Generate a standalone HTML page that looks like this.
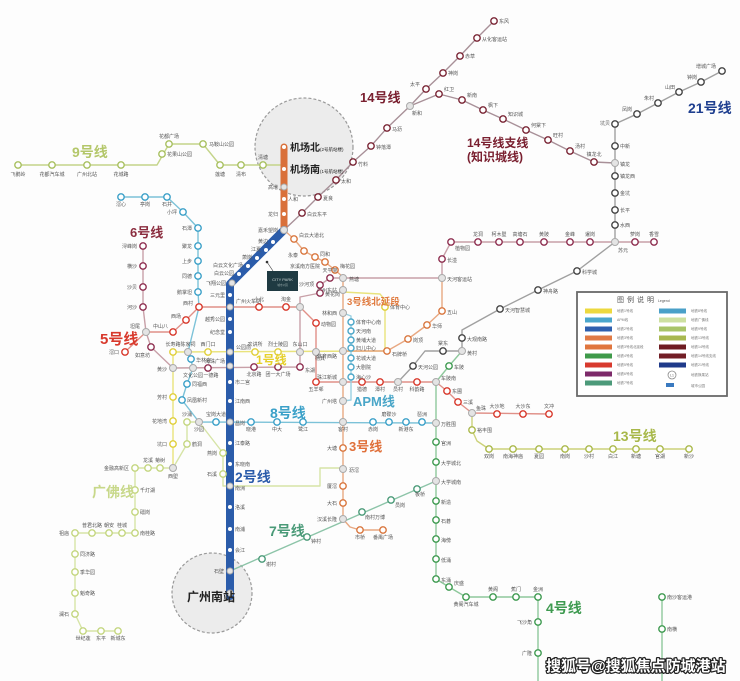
<!DOCTYPE html>
<html><head><meta charset="utf-8"><style>
html,body{margin:0;padding:0;background:#fdfdfd;}
svg{display:block;}
</style></head><body>
<svg width="740" height="681" viewBox="0 0 740 681" xmlns="http://www.w3.org/2000/svg" font-family="'Liberation Sans','Noto Sans CJK SC',sans-serif">
<rect width="740" height="681" fill="#fdfdfd"/>
<!-- big circles -->
<circle cx="304" cy="147" r="49" fill="#ececec" stroke="#9a9a9a" stroke-width="1.2" stroke-dasharray="3,2"/>
<circle cx="212" cy="593" r="40" fill="#ececec" stroke="#9a9a9a" stroke-width="1.2" stroke-dasharray="3,2"/>

<!-- thin lines -->
<g fill="none" stroke-width="1.4" stroke-linejoin="round">
<polyline stroke="#c4d48a" points="18,165 157,165 169,144 203,144 220,165 284,165"/>
<polyline stroke="#a89098" points="284,230 302,213 318,197 336,180 353,162 371,146 387,128 410,106 426,89 443,73 460,56 477,38 494,21"/>
<polyline stroke="#a89098" points="410,106 439,94 462,100 483,110 503,119 526,130 548,140 570,151 594,162 615,163"/>
<polyline stroke="#a0a0a0" points="722,71 701,82 679,92 658,103 637,114 615,124 615,242 577,271 538,290 500,309 462,330 462,351 443,351 425,351 413,366 398,382"/>
<polyline stroke="#c8a0a8" points="343,278 442,278 442,259 451,242 654,242"/>
<polyline stroke="#c8a0a8" points="143,246 143,307 146,332 151,347 173,368 300,367 300,297 320,293 320,285 330,278 343,278"/>
<polyline stroke="#e09088" points="125,352 146,332 173,332 186,320 199,307 300,307 316,323 316,382 436,382 447,391 458,402 472,413 549,414"/>
<polyline stroke="#7cc2d8" points="121,197 167,197 183,212 198,228 198,292 199,307 188,352 191,360 193,368 187,384 182,400 199,422 436,423"/>
<polyline stroke="#e9e37c" points="173,468 173,352 383,351 385,349 385,300 380,294 343,292"/>
<polyline stroke="#e8a882" points="284,230 294,239 304,251 315,257 325,262 335,270 343,277 343,351"/>
<polyline stroke="#e8a882" points="442,278 442,311 427,325 408,339 387,351 343,351 343,519 350,527 360,530 383,530"/>
<polyline stroke="#9ad0e2" points="343,313 351,316 351,400 343,401"/>
<polyline stroke="#8ec89c" points="462,351 449,366 436,382 436,579 449,587 466,597 538,597 538,681"/>
<polyline stroke="#8ec89c" points="662,597 662,681"/>
<polyline stroke="#ccd27a" points="472,413 472,430 477,441 489,449 689,449"/>
<polyline stroke="#8cc4a8" points="230,571 436,481"/>
<polyline stroke="#d6e4a6" points="173,468 135,468 135,533 75,533 75,614 83,631 118,631"/>
<polyline stroke="#d6e4a6" points="173,468 187,444 187,422 199,422 223,453 223,486 320,486 320,468 343,468"/>
</g>

<!-- thick lines -->
<line x1="284" y1="147" x2="284" y2="230" stroke="#d9703a" stroke-width="7" stroke-linecap="round"/>
<polyline points="284,230 230,284 230,596" fill="none" stroke="#2b5caa" stroke-width="8" stroke-linejoin="round" stroke-linecap="round"/>

<!-- white dots on thick lines -->
<g fill="#fff">
<circle cx="284" cy="147" r="2"/><circle cx="284" cy="169" r="2"/><circle cx="284" cy="199" r="2"/><circle cx="284" cy="214" r="2"/>
<circle cx="273" cy="242" r="2"/><circle cx="266" cy="250" r="2"/><circle cx="257" cy="258" r="2"/><circle cx="248" cy="266" r="2"/><circle cx="239" cy="274" r="2"/>
<circle cx="230" cy="295" r="2"/><circle cx="230" cy="319" r="2"/><circle cx="230" cy="332" r="2"/><circle cx="230" cy="382" r="2"/><circle cx="230" cy="401" r="2"/><circle cx="230" cy="443" r="2"/><circle cx="230" cy="464" r="2"/><circle cx="230" cy="507" r="2"/><circle cx="230" cy="529" r="2"/><circle cx="230" cy="550" r="2"/>
</g>

<!-- interchange stations -->
<g fill="#e4e4e4" stroke="#aaa" stroke-width="1">
<circle cx="284" cy="187" r="3"/><circle cx="284" cy="230" r="3.5"/><circle cx="410" cy="106" r="3.5"/><circle cx="615" cy="163" r="3.5"/><circle cx="615" cy="242" r="3.5"/>
<circle cx="462" cy="351" r="3.5"/><circle cx="146" cy="332" r="3.5"/><circle cx="173" cy="368" r="3.5"/><circle cx="193" cy="368" r="3.5"/><circle cx="300" cy="352" r="3.5"/><circle cx="300" cy="307" r="3.5"/><circle cx="343" cy="278" r="3.5"/><circle cx="442" cy="278" r="3.5"/>
<circle cx="230" cy="307" r="3"/><circle cx="316" cy="352" r="3.5"/><circle cx="343" cy="382" r="3.5"/><circle cx="398" cy="382" r="3.5"/><circle cx="436" cy="382" r="3.5"/><circle cx="472" cy="413" r="3.5"/>
<circle cx="199" cy="422" r="3.5"/><circle cx="230" cy="422" r="3"/><circle cx="343" cy="422" r="3.5"/><circle cx="436" cy="423" r="3.5"/><circle cx="173" cy="468" r="3.5"/><circle cx="188" cy="352" r="3.5"/><circle cx="230" cy="352" r="3"/><circle cx="230" cy="366" r="3"/>
<circle cx="343" cy="290" r="3.5"/><circle cx="343" cy="313" r="3.5"/><circle cx="343" cy="351" r="3.5"/><circle cx="343" cy="401" r="3.5"/><circle cx="343" cy="469" r="3.5"/><circle cx="343" cy="519" r="3.5"/><circle cx="436" cy="481" r="3.5"/>
<circle cx="232" cy="283" r="3"/><circle cx="230" cy="486" r="3"/><circle cx="230" cy="571" r="3"/><circle cx="230" cy="593" r="3"/>
</g>

<!-- line stations -->
<g fill="#fff" stroke-width="1.4">
<g stroke="#a8c060"><circle cx="18" cy="165" r="3.2"/><circle cx="52" cy="165" r="3.2"/><circle cx="87" cy="165" r="3.2"/><circle cx="121" cy="165" r="3.2"/><circle cx="162" cy="154" r="3.2"/><circle cx="169" cy="144" r="3.2"/><circle cx="203" cy="144" r="3.2"/><circle cx="220" cy="165" r="3.2"/><circle cx="241" cy="165" r="3.2"/><circle cx="263" cy="165" r="3.2"/></g>
<g stroke="#7a2535"><circle cx="302" cy="213" r="3.2"/><circle cx="318" cy="197" r="3.2"/><circle cx="336" cy="180" r="3.2"/><circle cx="353" cy="162" r="3.2"/><circle cx="371" cy="146" r="3.2"/><circle cx="387" cy="128" r="3.2"/><circle cx="426" cy="89" r="3.2"/><circle cx="443" cy="73" r="3.2"/><circle cx="460" cy="56" r="3.2"/><circle cx="477" cy="38" r="3.2"/><circle cx="494" cy="21" r="3.2"/>
<circle cx="439" cy="94" r="3.2"/><circle cx="462" cy="100" r="3.2"/><circle cx="483" cy="110" r="3.2"/><circle cx="503" cy="119" r="3.2"/><circle cx="526" cy="130" r="3.2"/><circle cx="548" cy="140" r="3.2"/><circle cx="570" cy="151" r="3.2"/><circle cx="594" cy="162" r="3.2"/></g>
<g stroke="#444"><circle cx="722" cy="71" r="3.2"/><circle cx="701" cy="82" r="3.2"/><circle cx="679" cy="92" r="3.2"/><circle cx="658" cy="103" r="3.2"/><circle cx="637" cy="114" r="3.2"/><circle cx="615" cy="124" r="3.2"/><circle cx="615" cy="146" r="3.2"/><circle cx="615" cy="176" r="3.2"/><circle cx="615" cy="193" r="3.2"/><circle cx="615" cy="210" r="3.2"/><circle cx="615" cy="225" r="3.2"/><circle cx="577" cy="271" r="3.2"/><circle cx="538" cy="290" r="3.2"/><circle cx="500" cy="309" r="3.2"/><circle cx="462" cy="338" r="3.2"/><circle cx="443" cy="351" r="3.2"/><circle cx="413" cy="366" r="3.2"/></g>
<g stroke="#8e2f50"><circle cx="143" cy="246" r="3.2"/><circle cx="143" cy="266" r="3.2"/><circle cx="143" cy="287" r="3.2"/><circle cx="143" cy="307" r="3.2"/><circle cx="151" cy="347" r="3.2"/><circle cx="208" cy="368" r="3.2"/><circle cx="254" cy="367" r="3.2"/><circle cx="278" cy="367" r="3.2"/><circle cx="300" cy="367" r="3.2"/><circle cx="320" cy="293" r="3.2"/><circle cx="320" cy="285" r="3.2"/><circle cx="330" cy="278" r="3.2"/><circle cx="442" cy="259" r="3.2"/><circle cx="451" cy="242" r="3.2"/><circle cx="478" cy="242" r="3.2"/><circle cx="499" cy="242" r="3.2"/><circle cx="520" cy="242" r="3.2"/><circle cx="544" cy="242" r="3.2"/><circle cx="570" cy="242" r="3.2"/><circle cx="590" cy="242" r="3.2"/><circle cx="635" cy="242" r="3.2"/><circle cx="654" cy="242" r="3.2"/></g>
<g stroke="#d8392c"><circle cx="125" cy="352" r="3.2"/><circle cx="173" cy="332" r="3.2"/><circle cx="186" cy="320" r="3.2"/><circle cx="199" cy="307" r="3.2"/><circle cx="259" cy="307" r="3.2"/><circle cx="286" cy="307" r="3.2"/><circle cx="316" cy="323" r="3.2"/><circle cx="316" cy="382" r="3.2"/><circle cx="362" cy="382" r="3.2"/><circle cx="380" cy="382" r="3.2"/><circle cx="417" cy="382" r="3.2"/><circle cx="447" cy="391" r="3.2"/><circle cx="458" cy="402" r="3.2"/><circle cx="497" cy="414" r="3.2"/><circle cx="523" cy="414" r="3.2"/><circle cx="549" cy="414" r="3.2"/></g>
<g stroke="#3ba0c8"><circle cx="121" cy="197" r="3.2"/><circle cx="145" cy="197" r="3.2"/><circle cx="167" cy="197" r="3.2"/><circle cx="183" cy="212" r="3.2"/><circle cx="198" cy="228" r="3.2"/><circle cx="198" cy="246" r="3.2"/><circle cx="198" cy="261" r="3.2"/><circle cx="198" cy="276" r="3.2"/><circle cx="198" cy="292" r="3.2"/><circle cx="191" cy="359" r="3.2"/><circle cx="187" cy="384" r="3.2"/><circle cx="182" cy="400" r="3.2"/><circle cx="216" cy="422" r="3.2"/><circle cx="251" cy="422" r="3.2"/><circle cx="277" cy="422" r="3.2"/><circle cx="303" cy="422" r="3.2"/><circle cx="373" cy="422" r="3.2"/><circle cx="389" cy="422" r="3.2"/><circle cx="406" cy="422" r="3.2"/><circle cx="422" cy="422" r="3.2"/></g>
<g stroke="#e0cf3a"><circle cx="173" cy="444" r="3.2"/><circle cx="173" cy="421" r="3.2"/><circle cx="173" cy="397" r="3.2"/><circle cx="173" cy="352" r="3.2"/><circle cx="208" cy="352" r="3.2"/><circle cx="255" cy="352" r="3.2"/><circle cx="278" cy="352" r="3.2"/><circle cx="385" cy="307" r="3.2"/></g>
<g stroke="#d9773f"><circle cx="294" cy="239" r="3.2"/><circle cx="304" cy="251" r="3.2"/><circle cx="315" cy="257" r="3.2"/><circle cx="325" cy="262" r="3.2"/><circle cx="335" cy="270" r="3.2"/><circle cx="387" cy="351" r="3.2"/><circle cx="408" cy="339" r="3.2"/><circle cx="427" cy="325" r="3.2"/><circle cx="442" cy="311" r="3.2"/><circle cx="343" cy="448" r="3.2"/><circle cx="343" cy="486" r="3.2"/><circle cx="343" cy="503" r="3.2"/><circle cx="360" cy="530" r="3.2"/><circle cx="383" cy="530" r="3.2"/></g>
<g stroke="#4aa6c8"><circle cx="351" cy="322" r="3"/><circle cx="351" cy="331" r="3"/><circle cx="351" cy="340" r="3"/><circle cx="351" cy="348" r="3"/><circle cx="351" cy="358" r="3"/><circle cx="351" cy="367" r="3"/><circle cx="351" cy="377" r="3"/></g>
<g stroke="#3e9a50"><circle cx="449" cy="366" r="3.2"/><circle cx="436" cy="442" r="3.2"/><circle cx="436" cy="462" r="3.2"/><circle cx="436" cy="501" r="3.2"/><circle cx="436" cy="520" r="3.2"/><circle cx="436" cy="539" r="3.2"/><circle cx="436" cy="559" r="3.2"/><circle cx="436" cy="579" r="3.2"/><circle cx="449" cy="587" r="3.2"/><circle cx="466" cy="597" r="3.2"/><circle cx="493" cy="597" r="3.2"/><circle cx="516" cy="597" r="3.2"/><circle cx="538" cy="597" r="3.2"/><circle cx="538" cy="622" r="3.2"/><circle cx="538" cy="653" r="3.2"/><circle cx="662" cy="597" r="3.2"/><circle cx="662" cy="629" r="3.2"/></g>
<g stroke="#aab84a"><circle cx="472" cy="430" r="3.2"/><circle cx="489" cy="449" r="3.2"/><circle cx="513" cy="449" r="3.2"/><circle cx="539" cy="449" r="3.2"/><circle cx="565" cy="449" r="3.2"/><circle cx="589" cy="449" r="3.2"/><circle cx="613" cy="449" r="3.2"/><circle cx="636" cy="449" r="3.2"/><circle cx="660" cy="449" r="3.2"/><circle cx="689" cy="449" r="3.2"/></g>
<g stroke="#4a9a78"><circle cx="262" cy="559" r="3.2"/><circle cx="307" cy="537" r="3.2"/><circle cx="362" cy="512" r="3.2"/><circle cx="391" cy="500" r="3.2"/><circle cx="417" cy="489" r="3.2"/></g>
<g stroke="#c4d680"><circle cx="160" cy="468" r="3.2"/><circle cx="148" cy="468" r="3.2"/><circle cx="135" cy="468" r="3.2"/><circle cx="135" cy="490" r="3.2"/><circle cx="135" cy="512" r="3.2"/><circle cx="135" cy="533" r="3.2"/><circle cx="122" cy="533" r="3.2"/><circle cx="109" cy="533" r="3.2"/><circle cx="92" cy="533" r="3.2"/><circle cx="75" cy="533" r="3.2"/><circle cx="75" cy="554" r="3.2"/><circle cx="75" cy="572" r="3.2"/><circle cx="75" cy="593" r="3.2"/><circle cx="75" cy="614" r="3.2"/><circle cx="83" cy="631" r="3.2"/><circle cx="101" cy="631" r="3.2"/><circle cx="118" cy="631" r="3.2"/><circle cx="187" cy="444" r="3.2"/><circle cx="187" cy="422" r="3.2"/><circle cx="223" cy="453" r="3.2"/><circle cx="223" cy="474" r="3.2"/></g>
</g>

<!-- station labels -->
<g font-size="5" fill="#555">
<g text-anchor="middle">
<text x="18" y="176">飞鹅岭</text><text x="52" y="176">花都汽车城</text><text x="87" y="176">广州北站</text><text x="121" y="176">花城路</text><text x="169" y="138">花都广场</text><text x="220" y="176">莲塘</text><text x="241" y="176">清布</text><text x="263" y="159">清塘</text>
<text x="594" y="156">镇龙北</text><text x="443" y="345">棠东</text>
<text x="330" y="272">天平架</text><text x="478" y="236">龙洞</text><text x="499" y="236">柯木塱</text><text x="520" y="236">高塘石</text><text x="544" y="236">黄陂</text><text x="570" y="236">金峰</text><text x="590" y="236">暹岗</text><text x="635" y="236">萝岗</text><text x="654" y="236">香雪</text>
<text x="193" y="377">文化公园</text><text x="211" y="377">一德路</text><text x="254" y="376">北京路</text><text x="278" y="376">团一大广场</text>
<text x="259" y="301">小北</text><text x="286" y="301">淘金</text><text x="316" y="391">五羊邨</text><text x="362" y="391">猎德</text><text x="380" y="391">潭村</text><text x="398" y="391">员村</text><text x="417" y="391">科韵路</text><text x="497" y="408">大沙地</text><text x="523" y="408">大沙东</text><text x="549" y="408">文冲</text>
<text x="121" y="206">滘心</text><text x="145" y="206">亭岗</text><text x="167" y="206">石井</text><text x="199" y="431">沙园</text><text x="216" y="416">宝岗大道</text><text x="251" y="431">晓港</text><text x="277" y="431">中大</text><text x="303" y="431">鹭江</text><text x="343" y="431">客村</text><text x="373" y="431">赤岗</text><text x="389" y="416">磨碟沙</text><text x="406" y="431">新港东</text><text x="422" y="416">琶洲</text>
<text x="173" y="478">西塱</text><text x="173" y="346">长寿路</text><text x="188" y="346">陈家祠</text><text x="208" y="346">西门口</text><text x="255" y="346">农讲所</text><text x="278" y="346">烈士陵园</text><text x="300" y="346">东山口</text><text x="320" y="360">杨箕</text>
<text x="360" y="539">市桥</text><text x="383" y="539">番禺广场</text>
<text x="466" y="606">黄阁汽车城</text><text x="493" y="591">黄阁</text><text x="516" y="591">蕉门</text><text x="538" y="591">金洲</text>
<text x="489" y="458">双岗</text><text x="513" y="458">南海神庙</text><text x="539" y="458">夏园</text><text x="565" y="458">南岗</text><text x="589" y="458">沙村</text><text x="613" y="458">白江</text><text x="636" y="458">新塘</text><text x="660" y="458">官湖</text><text x="689" y="458">新沙</text>
<text x="160" y="462">菊树</text><text x="148" y="462">龙溪</text><text x="122" y="527">桂城</text><text x="109" y="527">朝安</text><text x="92" y="527">普君北路</text><text x="83" y="640">世纪莲</text><text x="101" y="640">东平</text><text x="118" y="640">新城东</text><text x="187" y="416">沙涌</text>
</g>
<g text-anchor="end">
<text x="278" y="189">高增</text><text x="278" y="216">龙归</text><text x="278" y="232">嘉禾望岗</text>
<text x="420" y="86">太平</text>
<text x="716" y="68">增城广场</text><text x="697" y="79">钟岗</text><text x="675" y="89">山田</text><text x="654" y="100">朱村</text><text x="632" y="111">凤岗</text><text x="610" y="125">坑贝</text>
<text x="137" y="248">浔峰岗</text><text x="137" y="268">横沙</text><text x="137" y="289">沙贝</text><text x="137" y="309">河沙</text><text x="140" y="328">坦尾</text><text x="150" y="357">如意坊</text><text x="167" y="371">黄沙</text><text x="314" y="286">沙河顶</text>
<text x="119" y="354">滘口</text><text x="168" y="328">中山八</text><text x="181" y="318">西场</text><text x="193" y="305">西村</text><text x="337" y="379">珠江新城</text>
<text x="177" y="214">小坪</text><text x="192" y="230">石潭</text><text x="192" y="248">聚龙</text><text x="192" y="263">上步</text><text x="192" y="278">同德</text><text x="192" y="294">鹅掌坦</text>
<text x="167" y="446">坑口</text><text x="167" y="423">花地湾</text><text x="167" y="399">芳村</text>
<text x="320" y="268">京溪南方医院</text><text x="298" y="257">永泰</text><text x="337" y="292">广州东站</text><text x="337" y="315">林和西</text><text x="337" y="358">体育西路</text><text x="337" y="403">广州塔</text><text x="337" y="450">大塘</text><text x="337" y="488">厦滘</text><text x="337" y="505">大石</text><text x="337" y="521">汉溪长隆</text>
<text x="532" y="624">飞沙角</text><text x="532" y="655">广隆</text>
<text x="129" y="470">金融高新区</text><text x="69" y="535">祖庙</text><text x="69" y="616">澜石</text><text x="217" y="455">燕岗</text><text x="217" y="476">石溪</text>
<text x="268" y="243">黄边</text><text x="261" y="251">江夏</text><text x="252" y="259">萧岗</text><text x="243" y="267">白云文化广场</text><text x="234" y="275">白云公园</text><text x="226" y="285">飞翔公园</text>
<text x="225" y="297">三元里</text><text x="225" y="321">越秀公园</text><text x="225" y="334">纪念堂</text><text x="225" y="363">海珠广场</text><text x="224" y="573">石壁</text>
</g>
<g>
<text x="167" y="156">花果山公园</text><text x="209" y="146">马鞍山公园</text>
<text x="288" y="201">人和</text>
<text x="307" y="216">白云东平</text><text x="323" y="200">夏良</text><text x="341" y="183">太和</text><text x="358" y="166">竹料</text><text x="376" y="149">钟落潭</text><text x="392" y="131">马沥</text><text x="412" y="115">新和</text><text x="448" y="75">神岗</text><text x="465" y="58">赤草</text><text x="482" y="41">从化客运站</text><text x="499" y="23">东风</text>
<text x="444" y="91">红卫</text><text x="467" y="97">新南</text><text x="488" y="107">枫下</text><text x="508" y="116">知识城</text><text x="531" y="127">何棠下</text><text x="553" y="137">旺村</text><text x="575" y="148">汤村</text><text x="620" y="166">镇龙</text>
<text x="620" y="148">中新</text><text x="620" y="178">镇龙西</text><text x="620" y="195">金坑</text><text x="620" y="212">长平</text><text x="620" y="227">水西</text><text x="618" y="252">苏元</text><text x="582" y="274">科学城</text><text x="543" y="293">神舟路</text><text x="505" y="312">天河智慧城</text><text x="467" y="341">大观南路</text><text x="467" y="355">黄村</text><text x="418" y="369">天河公园</text>
<text x="305" y="372">东湖</text><text x="325" y="296">黄花岗</text><text x="349" y="281">燕塘</text><text x="447" y="281">天河客运站</text><text x="447" y="262">长湴</text><text x="455" y="250">植物园</text>
<text x="236" y="303">广州火车站</text><text x="321" y="326">动物园</text><text x="441" y="380">车陂南</text><text x="452" y="393">东圃</text><text x="463" y="404">三溪</text><text x="476" y="410">鱼珠</text>
<text x="196" y="362">华林寺</text><text x="192" y="386">同福西</text><text x="187" y="402">凤凰新村</text><text x="441" y="426">万胜围</text>
<text x="236" y="349">公园前</text><text x="390" y="309">体育中心</text>
<text x="299" y="237">白云大道北</text><text x="320" y="256">同和</text><text x="340" y="268">梅花园</text><text x="392" y="356">石牌桥</text><text x="413" y="342">岗顶</text><text x="432" y="328">华师</text><text x="447" y="314">五山</text><text x="349" y="472">沥滘</text>
<text x="356" y="324">体育中心南</text><text x="356" y="333">天河南</text><text x="356" y="342">黄埔大道</text><text x="356" y="350">妇儿中心</text><text x="356" y="360">花城大道</text><text x="356" y="369">大剧院</text><text x="356" y="379">海心沙</text>
<text x="454" y="369">车陂</text><text x="441" y="445">官洲</text><text x="441" y="465">大学城北</text><text x="441" y="484">大学城南</text><text x="441" y="504">新造</text><text x="441" y="523">石碁</text><text x="441" y="542">海傍</text><text x="441" y="562">低涌</text><text x="441" y="582">东涌</text><text x="454" y="585">庆盛</text><text x="667" y="599">南沙客运港</text><text x="667" y="631">南横</text>
<text x="477" y="432">裕丰围</text>
<text x="266" y="566">谢村</text><text x="311" y="543">钟村</text><text x="365" y="519">南村万博</text><text x="395" y="507">员岗</text><text x="415" y="496">板桥</text>
<text x="140" y="492">千灯湖</text><text x="140" y="514">礌岗</text><text x="140" y="535">南桂路</text><text x="80" y="556">同济路</text><text x="80" y="574">季华园</text><text x="80" y="595">魁奇路</text><text x="192" y="446">鹤洞</text>
<text x="235" y="384">市二宫</text><text x="235" y="403">江南西</text><text x="235" y="425">昌岗</text><text x="235" y="445">江泰路</text><text x="235" y="466">东晓南</text><text x="235" y="490">南洲</text><text x="235" y="509">洛溪</text><text x="235" y="531">南浦</text><text x="235" y="552">会江</text>
</g>
</g>

<!-- airport labels -->
<text x="290" y="151" font-size="10" font-weight="bold" fill="#222">机场北<tspan font-size="4.5" font-weight="normal">(2号航站楼)</tspan></text>
<text x="290" y="173" font-size="10" font-weight="bold" fill="#222">机场南<tspan font-size="4.5" font-weight="normal">(1号航站楼)</tspan></text>
<text x="187" y="601" font-size="12" font-weight="bold" fill="#222">广州南站</text>

<!-- line name labels -->
<g font-weight="bold">
<text x="72" y="157" font-size="14" fill="#b4c76a">9号线</text>
<text x="130" y="237" font-size="13" fill="#8b2d3f">6号线</text>
<text x="100" y="344" font-size="15" fill="#d8392c">5号线</text>
<text x="360" y="102" font-size="13" fill="#7a2030">14号线</text>
<text x="467" y="147" font-size="12" fill="#7a2030">14号线支线</text>
<text x="467" y="161" font-size="12" fill="#7a2030">(知识城线)</text>
<text x="688" y="113" font-size="14" fill="#1f3f8f">21号线</text>
<text x="256" y="364" font-size="12" fill="#e6d02a">1号线</text>
<text x="347" y="305" font-size="9.5" fill="#e07a3e">3号线北延段</text>
<text x="353" y="406" font-size="13" fill="#4aa6c8">APM线</text>
<text x="270" y="418" font-size="14" fill="#3aa0c8">8号线</text>
<text x="349" y="451" font-size="13" fill="#e0703a">3号线</text>
<text x="613" y="441" font-size="14" fill="#a8b84a">13号线</text>
<text x="235" y="482" font-size="14" fill="#2b5caa">2号线</text>
<text x="92" y="497" font-size="14" fill="#c8d88a">广佛线</text>
<text x="269" y="536" font-size="14" fill="#4a9a78">7号线</text>
<text x="546" y="613" font-size="14" fill="#3e9a50">4号线</text>
</g>

<!-- City park marker -->
<circle cx="267" cy="262" r="1.3" fill="#333"/>
<line x1="267" y1="262" x2="273" y2="271" stroke="#333" stroke-width="0.6"/>
<rect x="267" y="271" width="31" height="20" fill="#1f3a42"/>
<text x="282.5" y="281" font-size="4" fill="#cfd8d8" text-anchor="middle">CITY PARK</text>
<text x="282.5" y="286" font-size="2.6" fill="#9fb0b0" text-anchor="middle">城市公园</text>

<!-- legend -->
<rect x="577" y="292" width="150" height="104" fill="#fff" stroke="#6a6a6a" stroke-width="1.8"/>
<text x="617" y="302" font-size="7" fill="#555" letter-spacing="3">图例说明<tspan font-size="3.5" letter-spacing="0"> Legend</tspan></text>
<g>
<rect x="585" y="308.5" width="27" height="5" fill="#ecd93f"/>
<rect x="585" y="317.5" width="27" height="5" fill="#4aa6cc"/>
<rect x="585" y="326.5" width="27" height="5" fill="#2e5fae"/>
<rect x="585" y="335.5" width="27" height="5" fill="#e07a45"/>
<rect x="585" y="344.5" width="27" height="5" fill="#e0763e"/>
<rect x="585" y="353.5" width="27" height="5" fill="#3f9a4a"/>
<rect x="585" y="362.5" width="27" height="5" fill="#d83a2e"/>
<rect x="585" y="371.5" width="27" height="5" fill="#7d2a6a"/>
<rect x="585" y="380.5" width="27" height="5" fill="#4c9a7a"/>
<rect x="659" y="308.5" width="27" height="5" fill="#4aa0c8"/>
<rect x="659" y="317.5" width="27" height="5" fill="#cde0a0"/>
<rect x="659" y="326.5" width="27" height="5" fill="#a8c468"/>
<rect x="659" y="335.5" width="27" height="5" fill="#a8b850"/>
<rect x="659" y="344.5" width="27" height="5" fill="#6e1c22"/>
<rect x="659" y="353.5" width="27" height="5" fill="#721e26"/>
<rect x="659" y="362.5" width="27" height="5" fill="#1f3a8a"/>
<circle cx="672" cy="375" r="4" fill="#fff" stroke="#888" stroke-width="0.8"/>
<text x="672" y="376.5" font-size="3.5" fill="#666" text-anchor="middle">L1</text>
<rect x="666" y="383" width="8" height="4" fill="#3a7ac0"/>
</g>
<g font-size="3.5" fill="#777">
<text x="617" y="312">地铁1号线</text><text x="617" y="321">APM线</text><text x="617" y="330">地铁2号线</text><text x="617" y="339">地铁3号线</text><text x="617" y="348">地铁3号线北延段</text><text x="617" y="357">地铁4号线</text><text x="617" y="366">地铁5号线</text><text x="617" y="375">地铁6号线</text><text x="617" y="384">地铁7号线</text>
<text x="691" y="312">地铁8号线</text><text x="691" y="321">地铁广佛线</text><text x="691" y="330">地铁9号线</text><text x="691" y="339">地铁13号线</text><text x="691" y="348">地铁14号线</text><text x="691" y="357">地铁14号线支线</text><text x="691" y="366">地铁21号线</text><text x="691" y="376">地铁换乘站</text><text x="691" y="387">城市公园</text>
</g>

<!-- watermark -->
<text x="546" y="671" font-size="15" font-weight="bold" fill="#fff" stroke="#222" stroke-width="2.5" paint-order="stroke" stroke-linejoin="round">搜狐号@搜狐焦点防城港站</text>
</svg>
</body></html>
